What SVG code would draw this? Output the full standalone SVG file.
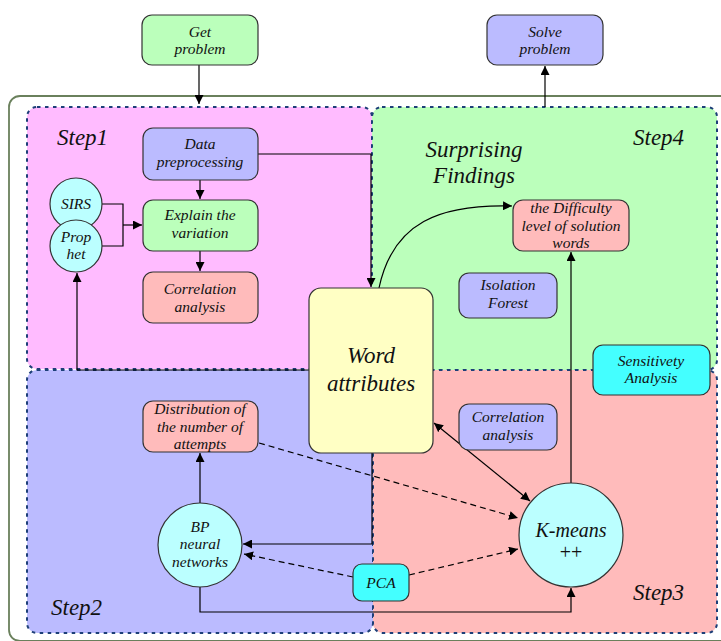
<svg xmlns="http://www.w3.org/2000/svg" width="721" height="641" viewBox="0 0 721 641">
<defs>
<style>
text{font-family:"Liberation Serif","Times New Roman",serif;font-style:italic;fill:#111;text-anchor:middle;font-size:15.5px}
.step{font-size:23px;text-anchor:start}
.big{font-size:23px}
.region{stroke:#1d3f78;stroke-width:2;stroke-dasharray:3.5 4.5}
.box{stroke:#333;stroke-width:1.2}
.c{fill:none;stroke:#000;stroke-width:1.2}
.d{fill:none;stroke:#000;stroke-width:1.2;stroke-dasharray:6 4}
.blue{fill:#bbbbff}.green{fill:#bbffbb}.red{fill:#ffbbbb}.cyan{fill:#bbffff}.aqua{fill:#44ffff}.yellow{fill:#ffffc4}
</style>
<marker id="ah" viewBox="0 0 10 10" refX="10" refY="5" markerWidth="9" markerHeight="9" markerUnits="userSpaceOnUse" orient="auto-start-reverse">
<path d="M0,0 L10,5 L0,10 z" fill="#000"/>
</marker>
</defs>
<rect width="721" height="641" fill="#fff"/>
<!-- outer frame -->
<rect x="9" y="96" width="740" height="545" rx="11" fill="none" stroke="#6a805c" stroke-width="1.8"/>
<!-- regions -->
<g id="step1-region"><rect class="region" x="27" y="107" width="345" height="262" rx="10" fill="#ffbbff"/></g>
<g id="step4-region"><rect class="region" x="372" y="107" width="345" height="263" rx="10" fill="#bbffbb"/></g>
<g id="step2-region"><rect class="region" x="27" y="370" width="346" height="263" rx="10" fill="#bbbbff"/></g>
<g id="step3-region"><rect class="region" x="373" y="370" width="344" height="263" rx="10" fill="#ffbbbb"/></g>
<text class="step" x="57" y="145">Step1</text>
<text class="step" x="633" y="145">Step4</text>
<text class="step" x="51" y="615">Step2</text>
<text class="step" x="633" y="600">Step3</text>
<text class="big" x="474" y="157">Surprising</text>
<text class="big" x="474" y="183">Findings</text>
<!-- connectors -->
<g id="connectors">
<path class="c" d="M199,65 V104" marker-end="url(#ah)"/>
<path class="c" d="M545,107 V66" marker-end="url(#ah)"/>
<path class="c" d="M258,154 H371 V287" marker-end="url(#ah)"/>
<path class="c" d="M200,180 V199" marker-end="url(#ah)"/>
<path class="c" d="M200,251 V271" marker-end="url(#ah)"/>
<path class="c" d="M102,204 H123 V246 H102"/>
<path class="c" d="M123,225 H142" marker-end="url(#ah)"/>
<path class="c" d="M309,370 H77 V273" marker-end="url(#ah)"/>
<path class="c" d="M379,288 C393,222 440,204 512,206" marker-end="url(#ah)"/>
<path class="c" d="M571,483 V252" marker-end="url(#ah)"/>
<path class="c" d="M200,503 V453" marker-end="url(#ah)"/>
<path class="c" d="M372,453 V544 H243" marker-end="url(#ah)"/>
<path class="c" d="M200,587 V612 H571 V588" marker-end="url(#ah)"/>
<path class="c" d="M434,423 L530,501" marker-start="url(#ah)" marker-end="url(#ah)"/>
<path class="d" d="M259,443 L518,518" marker-end="url(#ah)"/>
<path class="d" d="M353,577 L244,554" marker-end="url(#ah)"/>
<path class="d" d="M409,575 L518,549" marker-end="url(#ah)"/>
</g>
<!-- nodes -->
<g id="get-problem"><rect class="box green" x="142" y="15" width="116" height="50" rx="10"/><text x="200" y="37">Get</text><text x="200" y="54">problem</text></g>
<g id="solve-problem"><rect class="box blue" x="487" y="15" width="116" height="50" rx="10"/><text x="545" y="37">Solve</text><text x="545" y="54">problem</text></g>
<g id="data-preprocessing"><rect class="box blue" x="143" y="128" width="115" height="52" rx="10"/><text x="200" y="149">Data</text><text x="200" y="167">preprocessing</text></g>
<g id="explain-variation"><rect class="box green" x="143" y="200" width="115" height="51" rx="10"/><text x="200" y="220">Explain the</text><text x="200" y="238">variation</text></g>
<g id="correlation-1"><rect class="box red" x="143" y="272" width="115" height="51" rx="10"/><text x="200" y="294">Correlation</text><text x="200" y="312">analysis</text></g>
<g id="sirs"><circle class="box cyan" cx="76" cy="204" r="26"/><text x="76" y="209">SIRS</text></g>
<g id="prophet"><circle class="box cyan" cx="76" cy="246" r="26"/><text x="76" y="242">Prop</text><text x="76" y="259">het</text></g>
<g id="difficulty"><rect class="box red" x="513" y="200" width="116" height="51" rx="10"/><text x="571" y="213">the Difficulty</text><text x="571" y="231">level of solution</text><text x="571" y="248">words</text></g>
<g id="isolation-forest"><rect class="box blue" x="459" y="273" width="98" height="45" rx="10"/><text x="508" y="290">Isolation</text><text x="508" y="308">Forest</text></g>
<g id="sensitivity"><rect class="box aqua" x="593" y="345" width="117" height="50" rx="10"/><text x="651" y="366">Sensitivety</text><text x="651" y="383">Analysis</text></g>
<g id="word-attributes"><rect class="box yellow" x="309" y="288" width="124" height="165" rx="12"/><text class="big" x="371" y="363">Word</text><text class="big" x="371" y="391">attributes</text></g>
<g id="distribution"><rect class="box red" x="143" y="401" width="115" height="51" rx="10"/><text x="200" y="414">Distribution of</text><text x="200" y="432">the number of</text><text x="200" y="449">attempts</text></g>
<g id="correlation-3"><rect class="box blue" x="459" y="404" width="98" height="46" rx="10"/><text x="508" y="422">Correlation</text><text x="508" y="440">analysis</text></g>
<g id="bp"><circle class="box cyan" cx="200" cy="545" r="42"/><text x="200" y="532">BP</text><text x="200" y="549">neural</text><text x="200" y="567">networks</text></g>
<g id="kmeans"><circle class="box cyan" cx="571" cy="535" r="52"/><text x="571" y="537" style="font-size:20px">K-means</text><text x="571" y="559" style="font-size:20px;font-style:normal">++</text></g>
<g id="pca"><rect class="box aqua" x="353" y="564" width="56" height="37" rx="9"/><text x="381" y="588">PCA</text></g>
</svg>
